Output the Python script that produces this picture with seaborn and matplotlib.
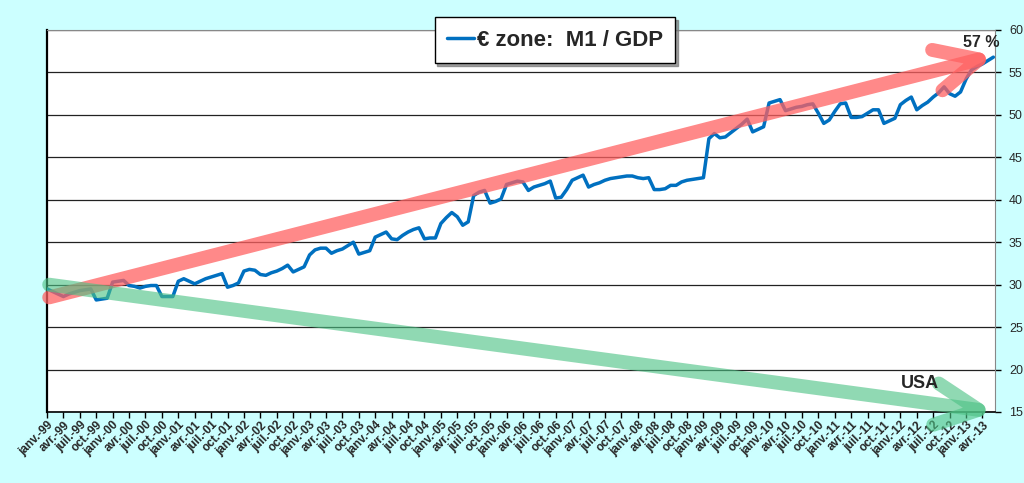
import numpy as np
import pandas as pd
import seaborn as sns
import matplotlib.pyplot as plt
from matplotlib.patches import FancyArrowPatch

# monthly M1 / GDP ratio, euro zone, janv.-99 .. juin-13
m1_gdp_1999 = [29.5, 29.2, 28.9, 28.6, 28.9, 29.1, 29.3, 29.4, 29.5, 28.2, 28.3, 28.4]
m1_gdp_2000 = [30.3, 30.4, 30.5, 29.9, 29.8, 29.6, 29.8, 29.9, 29.9, 28.6, 28.6, 28.6]
m1_gdp_2001 = [30.4, 30.7, 30.4, 30.1, 30.4, 30.7, 30.9, 31.1, 31.3, 29.7, 29.9, 30.2]
m1_gdp_2002 = [31.6, 31.8, 31.7, 31.2, 31.1, 31.4, 31.6, 31.9, 32.3, 31.5, 31.8, 32.1]
m1_gdp_2003 = [33.5, 34.1, 34.3, 34.3, 33.7, 34.0, 34.2, 34.6, 35.0, 33.6, 33.8, 34.0]
m1_gdp_2004 = [35.6, 35.9, 36.2, 35.4, 35.3, 35.8, 36.2, 36.5, 36.7, 35.4, 35.5, 35.5]
m1_gdp_2005 = [37.2, 37.9, 38.5, 38.0, 37.0, 37.4, 40.5, 40.9, 41.1, 39.6, 39.8, 40.1]
m1_gdp_2006 = [41.8, 42.0, 42.2, 42.1, 41.1, 41.5, 41.7, 41.9, 42.2, 40.2, 40.3, 41.2]
m1_gdp_2007 = [42.3, 42.6, 42.9, 41.5, 41.8, 42.0, 42.3, 42.5, 42.6, 42.7, 42.8, 42.8]
m1_gdp_2008 = [42.6, 42.5, 42.6, 41.2, 41.2, 41.3, 41.7, 41.7, 42.1, 42.3, 42.4, 42.5]
m1_gdp_2009 = [42.6, 47.2, 47.8, 47.3, 47.4, 47.9, 48.4, 48.9, 49.5, 48.0, 48.3, 48.6]
m1_gdp_2010 = [51.4, 51.6, 51.8, 50.5, 50.7, 50.9, 51.0, 51.2, 51.3, 50.2, 49.0, 49.4]
m1_gdp_2011 = [50.4, 51.3, 51.4, 49.7, 49.7, 49.8, 50.2, 50.6, 50.6, 49.0, 49.3, 49.6]
m1_gdp_2012 = [51.2, 51.7, 52.1, 50.6, 51.1, 51.5, 52.1, 52.6, 53.3, 52.5, 52.2, 52.7]
m1_gdp_2013 = [54.2, 55.3, 55.7, 56.0, 56.4, 56.8]

quarter_names = ['janv.', 'avr.', 'juil.', 'oct.']
years = list(range(1999, 2014))
y_ticks = [15, 20, 25, 30, 35, 40, 45, 50, 55, 60]

# trend arrows (start value, end value)
euro_trend = (28.5, 57.0)
usa_trend = (30.0, 15.0)

values = (m1_gdp_1999 + m1_gdp_2000 + m1_gdp_2001 + m1_gdp_2002 + m1_gdp_2003
          + m1_gdp_2004 + m1_gdp_2005 + m1_gdp_2006 + m1_gdp_2007 + m1_gdp_2008
          + m1_gdp_2009 + m1_gdp_2010 + m1_gdp_2011 + m1_gdp_2012 + m1_gdp_2013)
df = pd.DataFrame({'month': np.arange(len(values)), 'ratio': values})

tick_labels = []
for y in years:
    for q in quarter_names:
        tick_labels.append(f"{q}-{y % 100:02d}")
tick_labels = tick_labels[:58]

sns.set_style('white')
plt.rcParams['font.family'] = ['Liberation Sans', 'DejaVu Sans']

fig = plt.figure(figsize=(10.24, 4.83), dpi=100, facecolor='#CCFFFF')
ax = fig.add_axes([47 / 1024, 1 - 412 / 483, 948 / 1024, 382 / 483])
ax.set_facecolor('white')

last = len(values) - 1
ax.set_xlim(0, last + 0.3)
ax.set_ylim(15, 60)

for yv in y_ticks:
    ax.axhline(yv, color='#222222', lw=0.9, zorder=1)

sns.lineplot(data=df, x='month', y='ratio', color='#0070C0', lw=2.5,
             ax=ax, zorder=3, label='€ zone:  M1 / GDP')


def trend_arrow(start, end, color):
    arr = FancyArrowPatch((0.4, start), (last + 0.2, end),
                          arrowstyle='->, head_length=1.55, head_width=0.75',
                          mutation_scale=20, lw=10, color=color,
                          capstyle='round', joinstyle='round', zorder=4,
                          shrinkA=0, shrinkB=0, clip_on=False)
    ax.add_patch(arr)


trend_arrow(*euro_trend, (1.0, 0.38, 0.38, 0.75))
trend_arrow(*usa_trend, (0.3, 0.76, 0.52, 0.62))

ax.text(last + 1.2, 57.6, '57 %', fontsize=11.5, fontweight='bold',
        ha='right', va='bottom', zorder=5)
ax.text(last - 10, 18.3, 'USA', fontsize=13, fontweight='bold',
        ha='right', va='center', zorder=5)

ax.set_xticks(np.arange(0, 3 * len(tick_labels), 3))
ax.set_xticklabels(tick_labels, rotation=45, ha='right', rotation_mode='anchor',
                   fontsize=8.5, fontweight='bold')
ax.yaxis.tick_right()
ax.set_yticks(y_ticks)
ax.set_yticklabels([str(v) for v in y_ticks], fontsize=9)
ax.tick_params(axis='x', length=4, width=1, color='black', direction='out',
               bottom=True, pad=1)
ax.tick_params(axis='y', length=4, width=1, color='black', direction='out',
               right=True, pad=6)
ax.set_xlabel('')
ax.set_ylabel('')

ax.spines['left'].set_color('black')
ax.spines['left'].set_linewidth(1.6)
ax.spines['bottom'].set_color('black')
ax.spines['bottom'].set_linewidth(1.2)
ax.spines['right'].set_color('#888888')
ax.spines['top'].set_color('#888888')

leg = ax.legend(loc='center', bbox_to_anchor=(555 / 1024, 1 - 40 / 483),
                bbox_transform=fig.transFigure, frameon=True, fancybox=False,
                shadow={'color': '#777777', 'alpha': 0.7}, edgecolor='black',
                prop={'size': 16, 'weight': 'bold'}, handlelength=1.2,
                handletextpad=0.15, borderpad=0.55, borderaxespad=0)
leg.get_frame().set_linewidth(1.0)
leg.set_zorder(6)

fig.savefig('out.png', dpi=100, facecolor=fig.get_facecolor())
